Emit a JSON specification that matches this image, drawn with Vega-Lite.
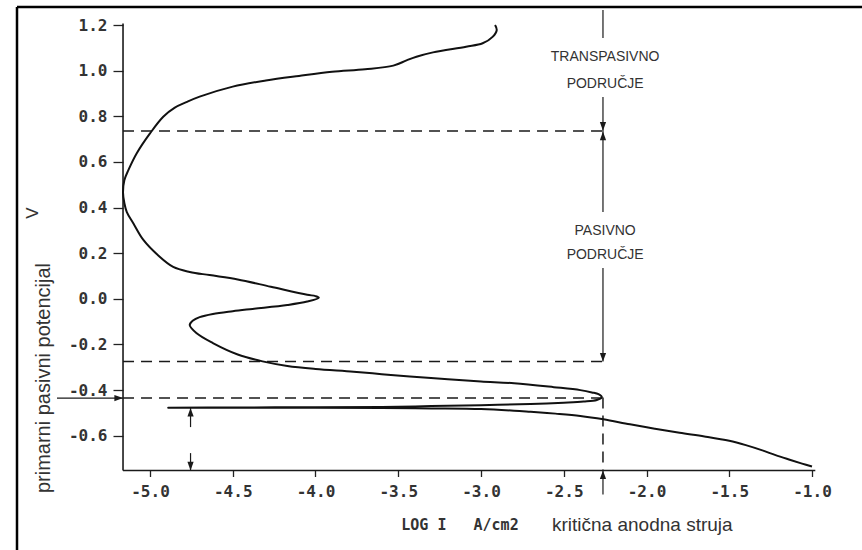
{
  "$schema": "https://vega.github.io/schema/vega-lite/v6.json",
  "width": 845,
  "height": 543,
  "autosize": {"type": "none"},
  "padding": {"left": 17, "top": 7, "right": 0, "bottom": 0},
  "background": "white",
  "config": {"view": {"stroke": null}},
  "datasets": {
    "curve": [
      {"i": 1, "x": -1.0, "y": -0.735},
      {"i": 2, "x": -1.06, "y": -0.722},
      {"i": 3, "x": -1.13, "y": -0.706},
      {"i": 4, "x": -1.22, "y": -0.685},
      {"i": 5, "x": -1.3, "y": -0.664},
      {"i": 6, "x": -1.4, "y": -0.641},
      {"i": 7, "x": -1.5, "y": -0.622},
      {"i": 8, "x": -1.65, "y": -0.603},
      {"i": 9, "x": -1.8, "y": -0.587},
      {"i": 10, "x": -1.95, "y": -0.569},
      {"i": 11, "x": -2.1, "y": -0.55},
      {"i": 12, "x": -2.26, "y": -0.528},
      {"i": 13, "x": -2.4, "y": -0.513},
      {"i": 14, "x": -2.55, "y": -0.503},
      {"i": 15, "x": -2.7, "y": -0.495},
      {"i": 16, "x": -2.8, "y": -0.49},
      {"i": 17, "x": -3.0, "y": -0.483},
      {"i": 18, "x": -3.3, "y": -0.48},
      {"i": 19, "x": -3.6, "y": -0.478},
      {"i": 20, "x": -4.0, "y": -0.477},
      {"i": 21, "x": -4.5, "y": -0.477},
      {"i": 22, "x": -4.89, "y": -0.477},
      {"i": 23, "x": -4.5, "y": -0.476},
      {"i": 24, "x": -4.0, "y": -0.475},
      {"i": 25, "x": -3.6, "y": -0.474},
      {"i": 26, "x": -3.3, "y": -0.47},
      {"i": 27, "x": -3.0, "y": -0.466},
      {"i": 28, "x": -2.7, "y": -0.461},
      {"i": 29, "x": -2.5, "y": -0.455},
      {"i": 30, "x": -2.38, "y": -0.45},
      {"i": 31, "x": -2.3, "y": -0.443},
      {"i": 32, "x": -2.27, "y": -0.432},
      {"i": 33, "x": -2.29, "y": -0.418},
      {"i": 34, "x": -2.33, "y": -0.41},
      {"i": 35, "x": -2.4, "y": -0.4},
      {"i": 36, "x": -2.56, "y": -0.387},
      {"i": 37, "x": -2.8, "y": -0.37},
      {"i": 38, "x": -3.0, "y": -0.362},
      {"i": 39, "x": -3.2, "y": -0.352},
      {"i": 40, "x": -3.43, "y": -0.34},
      {"i": 41, "x": -3.6, "y": -0.33},
      {"i": 42, "x": -3.77, "y": -0.319},
      {"i": 43, "x": -4.0, "y": -0.307},
      {"i": 44, "x": -4.17, "y": -0.294},
      {"i": 45, "x": -4.32, "y": -0.274},
      {"i": 46, "x": -4.47, "y": -0.244},
      {"i": 47, "x": -4.62, "y": -0.194},
      {"i": 48, "x": -4.72, "y": -0.15},
      {"i": 49, "x": -4.76, "y": -0.115},
      {"i": 50, "x": -4.74, "y": -0.095},
      {"i": 51, "x": -4.7, "y": -0.08},
      {"i": 52, "x": -4.62, "y": -0.066},
      {"i": 53, "x": -4.5, "y": -0.054},
      {"i": 54, "x": -4.38, "y": -0.044},
      {"i": 55, "x": -4.17, "y": -0.027},
      {"i": 56, "x": -4.05, "y": -0.012},
      {"i": 57, "x": -3.98, "y": 0.005},
      {"i": 58, "x": -4.0, "y": 0.012},
      {"i": 59, "x": -4.05, "y": 0.018},
      {"i": 60, "x": -4.27, "y": 0.053},
      {"i": 61, "x": -4.47, "y": 0.085},
      {"i": 62, "x": -4.64, "y": 0.104},
      {"i": 63, "x": -4.76, "y": 0.118},
      {"i": 64, "x": -4.86, "y": 0.14},
      {"i": 65, "x": -4.95, "y": 0.19},
      {"i": 66, "x": -5.04, "y": 0.258},
      {"i": 67, "x": -5.1, "y": 0.33},
      {"i": 68, "x": -5.14, "y": 0.38},
      {"i": 69, "x": -5.155, "y": 0.42},
      {"i": 70, "x": -5.163, "y": 0.465},
      {"i": 71, "x": -5.155, "y": 0.52},
      {"i": 72, "x": -5.13, "y": 0.565},
      {"i": 73, "x": -5.08, "y": 0.638},
      {"i": 74, "x": -5.0, "y": 0.725},
      {"i": 75, "x": -4.92, "y": 0.798},
      {"i": 76, "x": -4.85, "y": 0.838},
      {"i": 77, "x": -4.78, "y": 0.862},
      {"i": 78, "x": -4.7, "y": 0.886},
      {"i": 79, "x": -4.5, "y": 0.93},
      {"i": 80, "x": -4.3, "y": 0.957},
      {"i": 81, "x": -4.1, "y": 0.977},
      {"i": 82, "x": -3.9, "y": 0.995},
      {"i": 83, "x": -3.7, "y": 1.006},
      {"i": 84, "x": -3.53, "y": 1.022},
      {"i": 85, "x": -3.45, "y": 1.045},
      {"i": 86, "x": -3.39, "y": 1.061},
      {"i": 87, "x": -3.29, "y": 1.08},
      {"i": 88, "x": -3.09, "y": 1.105},
      {"i": 89, "x": -2.99, "y": 1.12},
      {"i": 90, "x": -2.93, "y": 1.148},
      {"i": 91, "x": -2.905, "y": 1.178},
      {"i": 92, "x": -2.915, "y": 1.2}
    ],
    "frame": [
      {"x": -5.8036, "x2": -5.8036, "y": -1.1006, "y2": 1.2789},
      {"x": -5.8036, "x2": -0.6979, "y": 1.2789, "y2": 1.2789}
    ],
    "axes": [
      {"x": -5.163, "x2": -0.98, "y": -0.752, "y2": -0.752},
      {"x": -5.163, "x2": -5.163, "y": -0.752, "y2": 1.207}
    ],
    "dashed": [
      {"x": -5.163, "x2": -2.263, "y": 0.735, "y2": 0.735},
      {"x": -5.163, "x2": -2.263, "y": -0.275, "y2": -0.275},
      {"x": -5.163, "x2": -2.27, "y": -0.435, "y2": -0.435},
      {"x": -2.263, "x2": -2.263, "y": -0.432, "y2": -0.752}
    ],
    "stems": [
      {"x": -2.263, "x2": -2.263, "y": 1.266, "y2": 1.143},
      {"x": -2.263, "x2": -2.263, "y": 0.884, "y2": 0.735},
      {"x": -2.263, "x2": -2.263, "y": 0.735, "y2": 0.381},
      {"x": -2.263, "x2": -2.263, "y": 0.135, "y2": -0.275},
      {"x": -2.263, "x2": -2.263, "y": -0.752, "y2": -0.857},
      {"x": -5.562, "x2": -5.163, "y": -0.435, "y2": -0.435},
      {"x": -4.755, "x2": -4.755, "y": -0.562, "y2": -0.478},
      {"x": -4.755, "x2": -4.755, "y": -0.676, "y2": -0.752}
    ],
    "heads": [
      {"x": -2.263, "y": 0.737, "dir": "down"},
      {"x": -2.263, "y": 0.733, "dir": "up"},
      {"x": -2.263, "y": -0.275, "dir": "down"},
      {"x": -2.263, "y": -0.752, "dir": "up"},
      {"x": -5.163, "y": -0.435, "dir": "right"},
      {"x": -4.755, "y": -0.478, "dir": "up"},
      {"x": -4.755, "y": -0.752, "dir": "down"}
    ],
    "regions": [
      {"t": "TRANSPASIVNO", "x": -2.25, "y": 1.06},
      {"t": "PODRUČJE", "x": -2.25, "y": 0.941},
      {"t": "PASIVNO", "x": -2.25, "y": 0.297},
      {"t": "PODRUČJE", "x": -2.25, "y": 0.192}
    ],
    "unit": [
      {"t": "LOG I\u00a0\u00a0\u00a0A/cm2", "x": -3.127, "y": -0.991}
    ],
    "caption": [
      {"t": "kritična anodna struja", "x": -2.571, "y": -0.991}
    ],
    "ytitle": [
      {"t": "primarni pasivni potencijal", "x": -5.64, "y": -0.347, "s": 20},
      {"t": "V", "x": -5.707, "y": 0.376, "s": 17}
    ]
  },
  "encoding": {
    "x": {
      "field": "x",
      "type": "quantitative",
      "scale": {"domain": [-5.8036, -0.6979], "nice": false, "zero": false},
      "axis": {
        "values": [-5, -4.5, -4, -3.5, -3, -2.5, -2, -1.5, -1],
        "offset": -79.5,
        "domain": false,
        "grid": false,
        "title": null,
        "tickSize": 6,
        "tickWidth": 1.3,
        "tickColor": "#222",
        "labelFont": "DejaVu Sans Mono",
        "labelFontWeight": "bold",
        "labelFontSize": 16,
        "labelColor": "#333",
        "labelPadding": 7,
        "labelFlush": false,
        "labelOverlap": false,
        "labelExpr": "replace(format(datum.value, '.1f'), '\u2212', '-')"
      }
    },
    "y": {
      "field": "y",
      "type": "quantitative",
      "scale": {"domain": [-1.1006, 1.2789], "nice": false, "zero": false},
      "axis": {
        "values": [-0.6, -0.4, -0.2, 0, 0.2, 0.4, 0.6, 0.8, 1, 1.2],
        "offset": -106,
        "domain": false,
        "grid": false,
        "title": null,
        "tickSize": 10,
        "tickWidth": 1.3,
        "tickColor": "#222",
        "labelFont": "DejaVu Sans Mono",
        "labelFontWeight": "bold",
        "labelFontSize": 16,
        "labelColor": "#333",
        "labelPadding": 6,
        "labelFlush": false,
        "labelOverlap": false,
        "labelExpr": "replace(format(datum.value, '.1f'), '\u2212', '-')"
      }
    }
  },
  "layer": [
    {
      "data": {"name": "frame"},
      "mark": {"type": "rule", "color": "#000", "strokeWidth": 2.5},
      "encoding": {"x2": {"field": "x2"}, "y2": {"field": "y2"}}
    },
    {
      "data": {"name": "axes"},
      "mark": {"type": "rule", "color": "#1a1a1a", "strokeWidth": 1.6},
      "encoding": {"x2": {"field": "x2"}, "y2": {"field": "y2"}}
    },
    {
      "data": {"name": "dashed"},
      "mark": {"type": "rule", "color": "#1a1a1a", "strokeWidth": 1.5, "strokeDash": [11, 7]},
      "encoding": {"x2": {"field": "x2"}, "y2": {"field": "y2"}}
    },
    {
      "data": {"name": "stems"},
      "mark": {"type": "rule", "color": "#1a1a1a", "strokeWidth": 1.2},
      "encoding": {"x2": {"field": "x2"}, "y2": {"field": "y2"}}
    },
    {
      "data": {"name": "heads"},
      "mark": {"type": "point", "filled": true, "color": "#1a1a1a", "size": 300, "opacity": 1, "strokeWidth": 0},
      "encoding": {
        "shape": {
          "field": "dir",
          "type": "nominal",
          "scale": {
            "domain": ["up", "down", "right"],
            "range": ["M0,0L-0.36,1L0.36,1Z", "M0,0L-0.36,-1L0.36,-1Z", "M0,0L-1,-0.36L-1,0.36Z"]
          },
          "legend": null
        }
      }
    },
    {
      "data": {"name": "curve"},
      "mark": {"type": "line", "color": "#111", "strokeWidth": 2, "strokeJoin": "round", "interpolate": "catmull-rom"},
      "encoding": {"order": {"field": "i", "type": "quantitative"}}
    },
    {
      "data": {"name": "regions"},
      "mark": {"type": "text", "font": "Liberation Sans", "fontSize": 14, "color": "#333", "align": "center", "baseline": "middle"},
      "encoding": {"text": {"field": "t"}}
    },
    {
      "data": {"name": "unit"},
      "mark": {"type": "text", "font": "DejaVu Sans Mono", "fontWeight": "bold", "fontSize": 15, "color": "#333", "align": "center", "baseline": "middle"},
      "encoding": {"text": {"field": "t"}}
    },
    {
      "data": {"name": "caption"},
      "mark": {"type": "text", "font": "Liberation Sans", "fontSize": 19, "color": "#333", "align": "left", "baseline": "middle"},
      "encoding": {"text": {"field": "t"}}
    },
    {
      "data": {"name": "ytitle"},
      "mark": {"type": "text", "font": "Liberation Sans", "color": "#333", "align": "center", "baseline": "middle", "angle": 270},
      "encoding": {
        "text": {"field": "t"},
        "size": {"field": "s", "type": "quantitative", "scale": null}
      }
    }
  ]
}
